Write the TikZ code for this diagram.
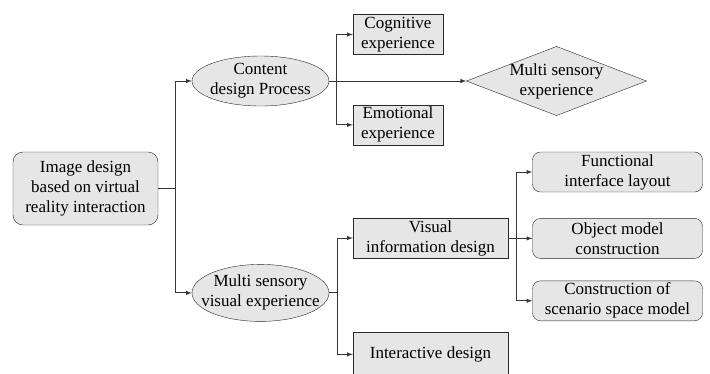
\documentclass[tikz,border=0pt]{standalone}
\usepackage{fontspec}
\setmainfont{Liberation Serif}
\usepackage{xcolor}
\definecolor{mygri1}{RGB}{230,230,230}
\definecolor{mylin1}{RGB}{55,55,55}
\definecolor{mybor1}{RGB}{40,40,40}
\usepackage{tikz}
\usetikzlibrary{positioning}
\usetikzlibrary{shapes.geometric, arrows}
\tikzstyle{rootbox} = [rectangle, rounded corners=10pt, minimum width=145pt, minimum height=73pt, inner sep=1pt, text centered, draw=mybor1, fill=mygri1, text=black]
\tikzstyle{ellipsebox} = [ellipse, minimum width=137pt, inner xsep=-12pt, inner ysep=-2pt, text centered, draw=mybor1, fill=mygri1, text=black]
\tikzstyle{box} = [rectangle, minimum width=90pt, minimum height=40pt, inner sep=2pt, text centered, draw=mybor1, fill=mygri1, text=black]
\tikzstyle{roundbox} = [rectangle, rounded corners=8pt, minimum width=170pt, minimum height=40pt, inner sep=2pt, text centered, draw=mybor1, fill=mygri1, text=black]
\tikzstyle{diamondbox} = [diamond, aspect=2.6, minimum width=177pt, minimum height=68pt, inner xsep=-3pt, inner ysep=0pt, text centered, draw=mybor1, fill=mygri1, text=black]
\tikzstyle{line} = [line width=1pt,mylin1]
\tikzstyle{arrow} = [line width=1pt,->,>=latex,mylin1]

\begin{document}
\begin{tikzpicture}[x=1pt,y=-1pt,align=center,font=\rmfamily\fontsize{17}{20}\selectfont]
	\useasboundingbox (0,0) rectangle (710,373);
	\node (root)[rootbox] at (85.5,188.5){Image design\\based on virtual\\reality interaction};
	\node (content)[ellipsebox, minimum height=50pt] at (260.5,81){Content\\design Process};
	\node (msve)[ellipsebox, minimum height=57pt, below=158pt of content]{Multi sensory\\visual experience};
	\node (cognitive)[box] at (398,34.5){Cognitive\\experience};
	\node (emotional)[box, below=50pt of cognitive]{Emotional\\experience};
	\node (multi)[diamondbox] at (556.5,81){Multi sensory\\experience};
	\node (visual)[box, minimum width=155pt] at (430.5,238){Visual\\information design};
	\node (interactive)[box, minimum width=155pt, minimum height=44pt, below=74pt of visual]{Interactive design};
	\node (functional)[roundbox] at (617.5,172){Functional\\interface layout};
	\node (object)[roundbox, below=26pt of functional]{Object model\\construction};
	\node (scenario)[roundbox, below=22pt of object]{Construction of\\scenario space model};
	\coordinate (s1) at ([xshift=17pt]root.east);
	\coordinate (s2) at ([xshift=7pt]content.east);
	\coordinate (s3) at ([xshift=8pt]msve.east);
	\coordinate (s4) at ([xshift=8pt]visual.east);
	\draw [line] (root.east) -- (s1);
	\draw [arrow] (s1) |- (content.west);
	\draw [arrow] (s1) |- (msve.west);
	\draw [arrow] (content.east) -- (multi.west);
	\draw [arrow] (s2) |- (cognitive.west);
	\draw [arrow] (s2) |- (emotional.west);
	\draw [line] (msve.east) -- (s3);
	\draw [arrow] (s3) |- (visual.west);
	\draw [arrow] (s3) |- (interactive.west);
	\draw [line] (visual.east) -- (s4);
	\draw [arrow] (s4) |- (functional.west);
	\draw [arrow] (s4) |- (object.west);
	\draw [arrow] (s4) |- (scenario.west);
\end{tikzpicture}
\end{document}
